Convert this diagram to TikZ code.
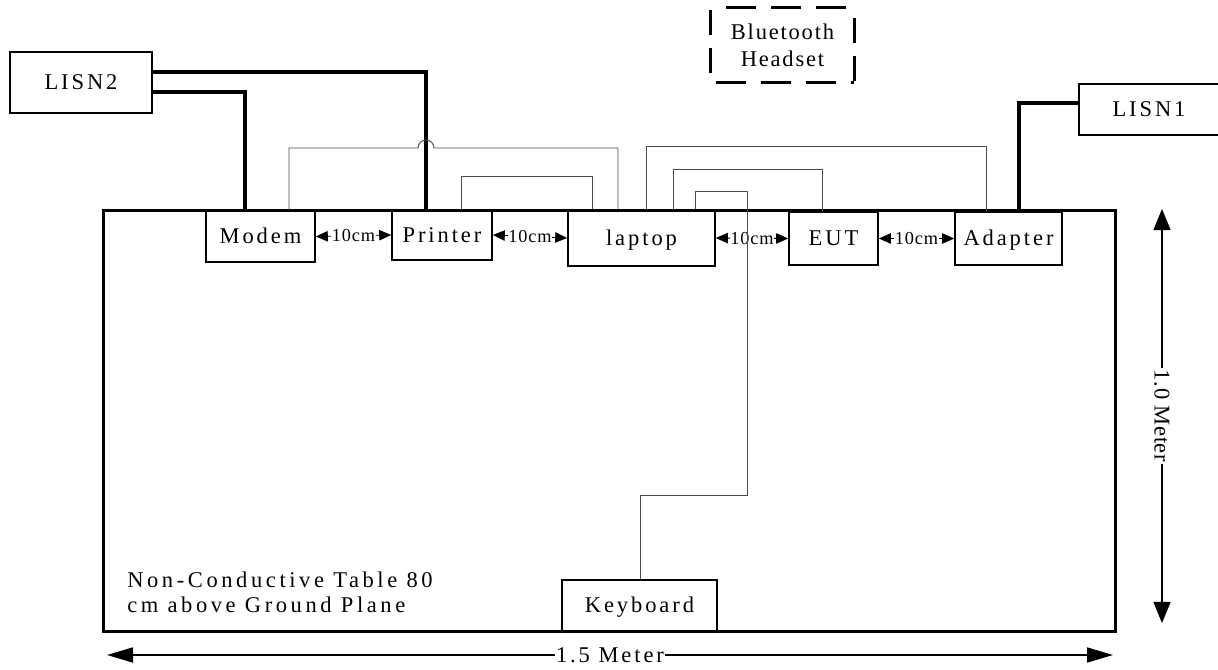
\documentclass[tikz,border=0pt]{standalone}
\usepackage{fontspec}
\setmainfont{Liberation Serif}[LetterSpace=13]
\usetikzlibrary{arrows.meta}

\begin{document}
\begin{tikzpicture}[x=0.025cm, y=-0.025cm,
  unit/.style={draw, line width=1.1pt, inner sep=0pt, font=\fontsize{16}{19}\selectfont,
               text height=11pt, text depth=1pt},
  headset/.style={inner sep=0pt, align=center,
                  font=\fontsize{16}{19}\selectfont\addfontfeatures{LetterSpace=8},
                  minimum width=3.575cm, minimum height=1.85cm},
  btside/.style={line width=2pt},
  note/.style={align=left, inner sep=0pt,
               font=\fontsize{16}{17.8}\selectfont\addfontfeatures{LetterSpace=16}},
  power/.style={line width=2.2pt},
  cable/.style={line width=0.7pt, black!70},
  gap/.style={{Triangle[length=0.3cm,width=0.26cm]}-{Triangle[length=0.3cm,width=0.26cm]},
              line width=0.6pt},
  gaplabel/.style={fill=white, inner xsep=0.3pt, inner ysep=0.5pt,
                   font=\fontsize{13}{15}\selectfont\addfontfeatures{LetterSpace=5}},
  dimh/.style={{Triangle[length=0.65cm,width=0.375cm]}-{Triangle[length=0.65cm,width=0.375cm]},
               line width=1.2pt},
  dimv/.style={{Triangle[length=0.525cm,width=0.425cm]}-{Triangle[length=0.525cm,width=0.425cm]},
               line width=0.9pt},
  dimlabel/.style={fill=white, inner sep=1pt, font=\fontsize{16}{19}\selectfont},
]
  \useasboundingbox (0,0) rectangle (1218,670);

  % table
  \node[draw, line width=2.2pt, inner sep=0pt, minimum width=25.275cm, minimum height=10.5cm]
    (table) at (609.5,421) {};

  \node[unit, minimum width=3.55cm,  minimum height=1.525cm] (lisn2)    at (81,82.5)     {LISN2};
  \node[unit, minimum width=3.5cm,   minimum height=1.275cm] (lisn1)    at (1149,109.5)  {LISN1};
  \node[headset]                                             (bt)       at (782.5,45)    {Bluetooth\\Headset};
  \node[unit, minimum width=2.725cm, minimum height=1.275cm] (modem)    at (260.5,236.5) {Modem};
  \node[unit, minimum width=2.5cm,   minimum height=1.25cm]  (printer)  at (442,235)     {Printer};
  \node[unit, minimum width=3.675cm, minimum height=1.4cm]   (laptop)   at (641.5,238)   {laptop};
  \node[unit, minimum width=2.225cm, minimum height=1.325cm] (eut)      at (833.5,238.5) {EUT};
  \node[unit, minimum width=2.675cm, minimum height=1.325cm] (adapter)  at (1008.5,238.5){Adapter};
  \node[unit, minimum width=3.875cm, minimum height=1.275cm] (keyboard) at (639.5,605.5) {Keyboard};

  \node[note, anchor=north west] (tablenote) at (127,571.5)
    {Non-Conductive Table 80\\cm above Ground Plane};

  % dashed outline of the headset
  \draw[btside, dash pattern=on 21pt off 11pt, dash phase=21pt] (bt.north west) -- (bt.north east);
  \draw[btside, dash pattern=on 21pt off 11pt, dash phase=28pt] (bt.south west) -- (bt.south east);
  \draw[btside, dash pattern=on 18pt off 9pt, dash phase=25.5pt] (bt.north west) -- (bt.south west);
  \draw[btside, dash pattern=on 18pt off 9pt, dash phase=20pt] (bt.north east) -- (bt.south east);

  % 10cm spacing
  \draw[gap] (modem.east)  -- node[gaplabel]{10cm} (printer.west);
  \draw[gap] (printer.east)-- node[gaplabel]{10cm} (laptop.west);
  \draw[gap] (laptop.east) -- node[gaplabel]{10cm} (eut.west);
  \draw[gap] (eut.east)    -- node[gaplabel]{10cm} (adapter.west);

  % mains leads
  \draw[power] (lisn2.east |- 0,72) -| (printer.north -| 426,0);
  \draw[power] (lisn2.east |- 0,92) -| (modem.north -| 245,0);
  \draw[power] (lisn1.west |- 0,103) -| (adapter.north -| 1019,0);

  % signal cables
  \draw[cable] (modem.north -| 289,0) |- (418,148)
    arc[start angle=180, end angle=0, radius=0.2cm] -| (laptop.north -| 618,0);
  \draw[cable] (printer.north -| 461,0) |- (592,176) -- (laptop.north -| 592,0);
  \draw[cable] (laptop.north -| 646,0) |- (986,146) -- (adapter.north -| 986,0);
  \draw[cable] (laptop.north -| 673,0) |- (822,169) -- (eut.north -| 822,0);
  \draw[cable] (laptop.north -| 695,0) |- (747,191) -- (747,495) -| (keyboard.north -| 640,0);

  % dimensions
  \coordinate (wl) at (107,655);
  \coordinate (wr) at (1113,655);
  \coordinate (dt) at (1162,209);
  \coordinate (db) at (1162,623);
  \draw[dimh] (wl) -- node[dimlabel]{1.5 Meter} (wr);
  \draw[dimv] (dt) -- node[dimlabel, rotate=-90, font=\fontsize{16}{19}\selectfont\addfontfeatures{LetterSpace=3}]{1.0 Meter} (db);
\end{tikzpicture}
\end{document}
